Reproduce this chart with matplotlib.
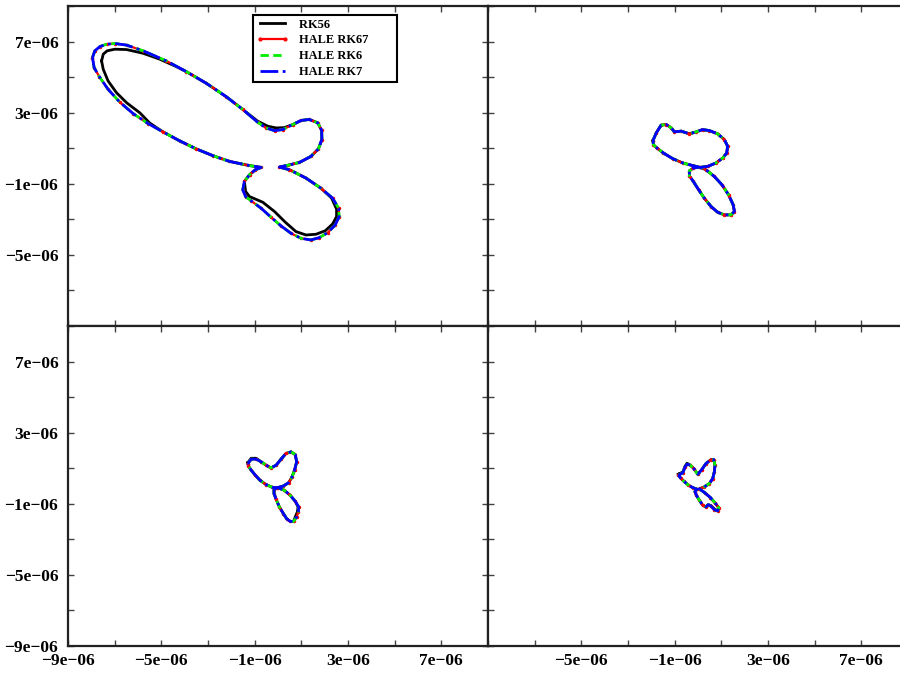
import numpy as np
import matplotlib
matplotlib.use("Agg")
import matplotlib.pyplot as plt
from matplotlib.lines import Line2D
from matplotlib.ticker import FixedLocator, FuncFormatter

plt.rcParams["font.family"] = ["Liberation Serif", "DejaVu Serif"]
plt.rcParams["font.weight"] = "bold"

SCALE = 1e-6  # coordinates below are in units of 1e-06

# ---- panel 1 (top left) ----
p1_hale_x = [-7.95, -7.85, -7.63, -7.35, -6.99, -6.49, -5.78, -4.78, -3.93, -3.07,
             -2.22, -1.51, -0.87, -0.51, -0.15, 0.20, 0.63, 0.99, 1.34, 1.70,
             1.87, 1.88, 1.73, 1.41, 0.92, 0.42, 0.06,
             0.49, 1.20, 1.84, 2.34, 2.60, 2.62, 2.45, 2.13, 1.77, 1.41, 0.99,
             0.56, 0.13, -0.30, -0.72, -1.15, -1.39, -1.51, -1.44, -1.22, -0.97, -0.72,
             -1.29, -2.08, -2.79, -3.50, -4.21, -4.93, -5.57, -6.21, -6.78, -7.28,
             -7.66, -7.88, -7.95]
p1_hale_y = [6.10, 6.48, 6.72, 6.85, 6.89, 6.80, 6.48, 5.91, 5.31, 4.65,
             3.90, 3.18, 2.46, 2.14, 1.99, 2.05, 2.33, 2.56, 2.62, 2.43,
             2.01, 1.49, 0.96, 0.54, 0.20, 0.04, -0.06,
             -0.21, -0.68, -1.25, -1.81, -2.38, -2.85, -3.32, -3.75, -4.03, -4.16, -4.07,
             -3.79, -3.37, -2.88, -2.38, -1.96, -1.72, -1.34, -0.87, -0.49, -0.21, -0.08,
             0.04, 0.26, 0.58, 0.96, 1.41, 1.92, 2.39, 2.95, 3.59, 4.31,
             5.03, 5.53, 6.10]

p1_rk56_x = [-7.56, -7.49, -7.32, -6.99, -6.49, -5.78, -5.07, -4.36, -3.93, -3.07,
             -2.22, -1.51, -0.87, -0.44, -0.08, 0.27, 0.63, 0.99, 1.34, 1.70,
             1.87, 1.88, 1.73, 1.41, 0.92, 0.42, 0.06,
             0.49, 1.20, 1.84, 2.30, 2.51, 2.51, 2.34, 2.03, 1.63, 1.20, 0.77,
             0.32, -0.15, -0.65, -1.22, -1.39, -1.44, -1.22, -0.97, -0.72,
             -1.29, -2.08, -2.79, -3.50, -4.21, -4.93, -5.50, -5.92, -6.49, -6.92,
             -7.28, -7.49, -7.56]
p1_rk56_y = [5.91, 6.29, 6.48, 6.57, 6.55, 6.34, 6.01, 5.59, 5.31, 4.65,
             3.90, 3.18, 2.52, 2.24, 2.14, 2.16, 2.33, 2.56, 2.62, 2.43,
             2.01, 1.49, 0.96, 0.54, 0.20, 0.04, -0.06,
             -0.21, -0.68, -1.25, -1.81, -2.43, -2.85, -3.26, -3.64, -3.84, -3.88, -3.69,
             -3.17, -2.56, -2.04, -1.72, -1.43, -0.87, -0.49, -0.21, -0.08,
             0.04, 0.26, 0.58, 0.96, 1.41, 1.92, 2.42, 2.99, 3.56, 4.12,
             4.78, 5.44, 5.91]

# ---- panel 2 (top right) ----
p2_hale_x = [-1.93, -1.79, -1.58, -1.36, -1.15, -1.01, -0.72, -0.37, -0.08, 0.20,
             0.49, 0.84, 1.13, 1.27, 1.23, 1.06, 0.77, 0.42, 0.09,
             0.34, 0.70, 1.03, 1.31, 1.51, 1.56, 1.41, 1.13, 0.84, 0.56, 0.27,
             0.03, -0.20, -0.37, -0.37, -0.20, 0.03,
             -0.22, -0.65, -1.08, -1.48, -1.76, -1.91, -1.93]
p2_hale_y = [1.43, 1.86, 2.30, 2.33, 2.15, 1.92, 1.96, 1.81, 1.92, 2.05,
             1.99, 1.81, 1.49, 1.11, 0.73, 0.45, 0.17, -0.02, -0.08,
             -0.21, -0.59, -1.06, -1.62, -2.19, -2.56, -2.75, -2.75, -2.60, -2.28, -1.81,
             -1.34, -0.87, -0.55, -0.27, -0.12, -0.06,
             0.02, 0.17, 0.41, 0.73, 1.01, 1.20, 1.43]
p2_rk56_x = p2_hale_x
p2_rk56_y = p2_hale_y

# ---- panel 3 (bottom left) ----
p3_hale_x = [-1.29, -1.15, -0.94, -0.72, -0.51, -0.30, -0.08, 0.13, 0.34, 0.56,
             0.74, 0.80, 0.71, 0.60, 0.46, 0.23, -0.01,
             0.27, 0.52, 0.74, 0.89, 0.87, 0.80, 0.67, 0.52, 0.37, 0.23, 0.06,
             -0.08, -0.17, -0.17, -0.05,
             -0.25, -0.51, -0.77, -0.97, -1.15, -1.27, -1.29]
p3_hale_y = [1.26, 1.51, 1.51, 1.36, 1.17, 1.02, 1.17, 1.51, 1.83, 1.92,
             1.77, 1.36, 0.89, 0.51, 0.19, 0.00, -0.09,
             -0.24, -0.52, -0.86, -1.18, -1.46, -1.74, -1.99, -1.99, -1.84, -1.55, -1.18,
             -0.75, -0.43, -0.20, -0.11,
             -0.07, 0.08, 0.32, 0.61, 0.89, 1.13, 1.26]
p3_rk56_x = [-1.29, -1.15, -0.94, -0.72, -0.51, -0.30, -0.08, 0.13, 0.34, 0.56,
             0.74, 0.80, 0.71, 0.60, 0.46, 0.23, -0.01,
             0.27, 0.52, 0.74, 0.86, 0.83, 0.74, 0.67, 0.52, 0.37, 0.23, 0.06,
             -0.08, -0.17, -0.17, -0.05,
             -0.25, -0.51, -0.80, -0.99, -1.15, -1.27, -1.29]
p3_rk56_y = [1.32, 1.56, 1.56, 1.36, 1.17, 1.02, 1.17, 1.51, 1.83, 1.92,
             1.77, 1.36, 0.89, 0.51, 0.19, 0.00, -0.09,
             -0.24, -0.52, -0.86, -1.18, -1.46, -1.74, -1.99, -1.99, -1.84, -1.55, -1.18,
             -0.75, -0.43, -0.20, -0.11,
             -0.07, 0.08, 0.35, 0.63, 0.89, 1.13, 1.32]

# ---- panel 4 (bottom right) ----
p4_hale_x = [-0.84, -0.65, -0.55, -0.47, -0.33, -0.18, -0.01, 0.16, 0.34, 0.56,
             0.67, 0.73, 0.70, 0.63, 0.49, 0.27, 0.06,
             0.30, 0.53, 0.73, 0.89, 0.84, 0.70, 0.56, 0.44, 0.33, 0.20, 0.06,
             -0.07, -0.13, -0.04,
             -0.23, -0.44, -0.61, -0.75, -0.84]
p4_hale_y = [0.61, 0.74, 1.08, 1.23, 1.17, 0.98, 0.66, 0.92, 1.26, 1.49,
             1.49, 1.17, 0.79, 0.42, 0.14, -0.05, -0.16,
             -0.39, -0.65, -0.95, -1.22, -1.40, -1.33, -1.14, -1.05, -1.18, -1.08, -0.80,
             -0.52, -0.31, -0.18,
             -0.09, 0.08, 0.27, 0.45, 0.61]
p4_rk56_x = [-0.84, -0.65, -0.55, -0.47, -0.33, -0.18, -0.01, 0.16, 0.34, 0.56,
             0.67, 0.73, 0.70, 0.63, 0.49, 0.27, 0.06,
             0.30, 0.53, 0.73, 0.89, 0.84, 0.70, 0.56, 0.44, 0.33, 0.20, 0.06,
             -0.07, -0.13, -0.04,
             -0.23, -0.44, -0.61, -0.75, -0.84]
p4_rk56_y = [0.66, 0.79, 1.12, 1.28, 1.17, 0.98, 0.66, 0.92, 1.26, 1.49,
             1.49, 1.17, 0.79, 0.42, 0.14, -0.05, -0.16,
             -0.39, -0.65, -0.95, -1.22, -1.40, -1.29, -1.10, -1.05, -1.18, -1.08, -0.80,
             -0.52, -0.31, -0.18,
             -0.09, 0.08, 0.27, 0.45, 0.66]

labels = ["RK56", "HALE RK67", "HALE RK6", "HALE RK7"]
major_ticks = [-9, -5, -1, 3, 7]
minor_ticks = [-7, -3, 1, 5, 9]

panels = [
    (p1_rk56_x, p1_rk56_y, p1_hale_x, p1_hale_y),
    (p2_rk56_x, p2_rk56_y, p2_hale_x, p2_hale_y),
    (p3_rk56_x, p3_rk56_y, p3_hale_x, p3_hale_y),
    (p4_rk56_x, p4_rk56_y, p4_hale_x, p4_hale_y),
]

fig = plt.figure(figsize=(9, 6.74), dpi=100)
W, H = 420 / 900, 320 / 674
left_x, right_x = 68 / 900, 488 / 900
top_y, bot_y = 1 - 326 / 674, 1 - 646 / 674
rects = [(left_x, top_y), (right_x, top_y), (left_x, bot_y), (right_x, bot_y)]


def sci_label(v, pos):
    s = "%.0e" % v
    return s.replace("-", "\u2212")


def sci_label_no_corner(v, pos):
    # the -9e-06 corner label is only written once, on the bottom-left panel
    if v < -8e-6:
        return ""
    return sci_label(v, pos)


axes = []
for (bx, by, hx, hy), (x0, y0) in zip(panels, rects):
    ax = fig.add_axes([x0, y0, W, H])
    bx = np.array(bx) * SCALE
    by = np.array(by) * SCALE
    hx = np.array(hx) * SCALE
    hy = np.array(hy) * SCALE
    ax.plot(bx, by, color="black", lw=2.0)
    ax.plot(hx, hy, color="red", lw=1.6, marker=".", ms=3)
    ax.plot(hx, hy, color="#00ee00", lw=2.0, dashes=(3, 1.6))
    ax.plot(hx, hy, color="blue", lw=2.0, linestyle="-.")
    ax.set_xlim(-9e-6, 9e-6)
    ax.set_ylim(-9e-6, 9e-6)
    ax.xaxis.set_major_locator(FixedLocator([t * SCALE for t in major_ticks]))
    ax.yaxis.set_major_locator(FixedLocator([t * SCALE for t in major_ticks]))
    ax.xaxis.set_minor_locator(FixedLocator([t * SCALE for t in minor_ticks]))
    ax.yaxis.set_minor_locator(FixedLocator([t * SCALE for t in minor_ticks]))
    ax.xaxis.set_major_formatter(FuncFormatter(sci_label))
    ax.yaxis.set_major_formatter(FuncFormatter(sci_label))
    ax.tick_params(which="both", direction="in", top=True, right=True,
                   length=4, width=1, colors="#444444")
    ax.tick_params(axis="both", labelsize=12.5, labelcolor="black")
    ax.tick_params(axis="y", pad=7)
    ax.tick_params(axis="x", pad=5)
    for sp in ax.spines.values():
        sp.set_linewidth(1.6)
        sp.set_color("#222222")
    for lab in ax.get_xticklabels() + ax.get_yticklabels():
        lab.set_fontweight("bold")
    axes.append(ax)

ax1, ax2, ax3, ax4 = axes
ax1.tick_params(labelbottom=False)
ax2.tick_params(labelbottom=False, labelleft=False)
ax4.tick_params(labelleft=False)
ax1.yaxis.set_major_formatter(FuncFormatter(sci_label_no_corner))
ax4.xaxis.set_major_formatter(FuncFormatter(sci_label_no_corner))

handles = [
    Line2D([], [], color="black", lw=2.0),
    Line2D([], [], color="red", lw=1.6, marker=".", ms=4),
    Line2D([], [], color="#00ee00", lw=2.0, dashes=(3, 1.6)),
    Line2D([], [], color="blue", lw=2.0, linestyle="-."),
]
# padded labels give the box its wide right margin
legend_labels = [lab + " " * 8 for lab in labels]
leg = ax1.legend(handles, legend_labels, loc="upper left", bbox_to_anchor=(0.44, 0.972),
                 borderaxespad=0, fancybox=False, framealpha=1, edgecolor="black",
                 prop={"family": "Liberation Serif", "weight": "bold", "size": 9},
                 handlelength=2.6, labelspacing=0.3, numpoints=2,
                 borderpad=0.3, handletextpad=0.8)
leg.get_frame().set_linewidth(1.5)

fig.savefig("out.png", dpi=100)
